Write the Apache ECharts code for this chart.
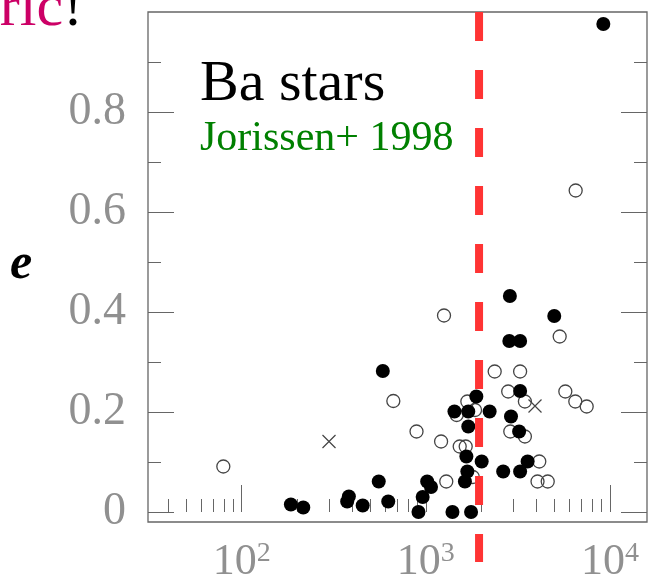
<!DOCTYPE html>
<html>
<head>
<meta charset="utf-8">
<script src="https://cdn.jsdelivr.net/npm/echarts@6/dist/echarts.min.js"></script>
<style>
html,body{margin:0;padding:0;background:#fff;}
#chart{width:655px;height:575px;}
</style>
</head>
<body>
<div id="chart"></div>
<script>
// ---- data (orbital period P in days, eccentricity e) ----
const filledP = [9200, 2860, 4980, 2840, 3250, 584, 3250, 1880, 1430, 1700, 2220, 2900, 1700, 3210, 1660, 2010, 3570, 1680, 1630, 2630, 3250, 1017, 1067, 555, 961, 912, 1395, 1760, 625, 382, 374, 454, 185, 216];
const filledE = [0.976, 0.432, 0.392, 0.342, 0.342, 0.282, 0.242, 0.231, 0.201, 0.201, 0.201, 0.191, 0.171, 0.161, 0.111, 0.101, 0.101, 0.081, 0.061, 0.081, 0.081, 0.061, 0.05, 0.061, 0.03, 0.0, 0.0, 0.0, 0.021, 0.031, 0.021, 0.013, 0.015, 0.009];
const openP = [1255, 6510, 5330, 2365, 3250, 666, 2800, 3450, 5720, 6480, 7470, 1680, 1470, 1850, 890, 1210, 1527, 1646, 2874, 3450, 4130, 4040, 4590, 1291, 79.5, 1800];
const openE = [0.393, 0.643, 0.351, 0.281, 0.281, 0.222, 0.241, 0.221, 0.241, 0.221, 0.211, 0.221, 0.194, 0.204, 0.161, 0.141, 0.131, 0.131, 0.161, 0.151, 0.101, 0.061, 0.061, 0.061, 0.091, 0.07];
const crossP = [3915, 298];
const crossE = [0.212, 0.141];
const redLineP = 1945;

const xMajorTicks = [100, 1000, 10000];
const xMinorTicks = [40, 50, 60, 70, 80, 90, 200, 300, 400, 500, 600, 700, 800, 900, 2000, 3000, 4000, 5000, 6000, 7000, 8000, 9000];
const xLabels = [100, 1000, 10000];
const yMajorTicks = [0, 0.2, 0.4, 0.6, 0.8];
const yMinorTicks = [0.1, 0.3, 0.5, 0.7, 0.9];
const yLabels = [0, 0.2, 0.4, 0.6, 0.8];

const zip = (a, b) => a.map((v, i) => [v, b[i]]);

const chart = echarts.init(document.getElementById('chart'), null, {renderer: 'canvas'});
const tickColor = '#666';
const labelColor = '#909090';
const serif = '"Liberation Serif", "Times New Roman", serif';

function xAx(pos, ticks, len, inside, withLabels) {
  return {
    type: 'log', logBase: 10, min: 31, max: 15880, gridIndex: 0, position: pos,
    axisLine: {show: false},
    splitLine: {show: false},
    minorTick: {show: false},
    axisTick: {show: true, inside: inside, length: len, customValues: ticks, lineStyle: {color: tickColor, width: 1}},
    axisLabel: withLabels ? {
      show: true, customValues: xLabels, margin: 18,
      formatter: v => '{b|10}{s|' + Math.round(Math.log10(v)) + '}',
      rich: {
        b: {fontSize: 44, fontFamily: serif, color: labelColor},
        s: {fontSize: 28, fontFamily: serif, color: labelColor, verticalAlign: 'top'}
      }
    } : {show: false}
  };
}
function yAx(pos, ticks, len, withLabels) {
  return {
    type: 'value', min: -0.02, max: 1.0, gridIndex: 0, position: pos,
    axisLine: {show: false},
    splitLine: {show: false},
    axisTick: {show: true, inside: true, length: len, customValues: ticks, lineStyle: {color: tickColor, width: 1}},
    axisLabel: withLabels ? {
      show: true, customValues: yLabels, margin: 22,
      fontSize: 46, fontFamily: serif, color: labelColor,
      formatter: v => (Math.abs(v) < 1e-9 ? '0' : v.toFixed(1))
    } : {show: false}
  };
}

const option = {
  animation: false,
  backgroundColor: '#fff',
  grid: {left: 148, top: 12, width: 499, height: 510, containLabel: false, outerBoundsMode: 'none',
    show: true, borderColor: '#666', borderWidth: 1.3, backgroundColor: 'transparent'},
  xAxis: [
    xAx('bottom', xMajorTicks, 27, true, true),
    xAx('bottom', xMinorTicks, 13, true, false),
    xAx('top', xMajorTicks.concat(xMinorTicks), 2, false, false)
  ],
  yAxis: [
    yAx('left', yMajorTicks, 26, true),
    yAx('left', yMinorTicks, 13, false),
    yAx('right', yMajorTicks, 26, false),
    yAx('right', yMinorTicks, 13, false)
  ],
  series: [
    {
      name: 'open', type: 'scatter', xAxisIndex: 0, yAxisIndex: 0,
      data: zip(openP, openE), symbol: 'circle', symbolSize: 13,
      itemStyle: {color: 'rgba(0,0,0,0)', borderColor: '#444', borderWidth: 1.3, opacity: 1},
      z: 2
    },
    {
      name: 'cross', type: 'scatter', xAxisIndex: 0, yAxisIndex: 0,
      data: zip(crossP, crossE), symbol: 'path://M0,0L10,10M10,0L0,10', symbolSize: 13,
      itemStyle: {color: 'rgba(0,0,0,0)', borderColor: '#444', borderWidth: 1.2, opacity: 1},
      z: 2
    },
    {
      name: 'filled', type: 'scatter', xAxisIndex: 0, yAxisIndex: 0,
      data: zip(filledP, filledE), symbol: 'circle', symbolSize: 14,
      itemStyle: {color: '#000', opacity: 1},
      z: 3
    }
  ],
  graphic: [
    {type: 'text', id: 'ric', x: 83, y: 9, z: 10,
      style: {text: '{a|ric}{b|!}', align: 'right', verticalAlign: 'middle',
        rich: {a: {fontSize: 60, fontFamily: serif, fill: '#cc0066'}, b: {fontSize: 60, fontFamily: serif, fill: '#000'}}}},
    {type: 'text', id: 'elab', x: 10, y: 265, z: 10,
      style: {text: 'e', font: 'italic bold 50px "Liberation Serif", serif', fill: '#000', verticalAlign: 'middle'}},
    {type: 'text', id: 'ba', x: 200, y: 84.4, z: 10,
      style: {text: 'Ba stars', font: '58px "Liberation Serif", serif', fill: '#000', verticalAlign: 'middle'}},
    {type: 'text', id: 'jor', x: 200, y: 138.8, z: 10,
      style: {text: 'Jorissen+ 1998', font: '42px "Liberation Serif", serif', fill: '#008000', verticalAlign: 'middle'}}
  ]
};
chart.setOption(option);

const px = chart.convertToPixel({xAxisIndex: 0}, redLineP);
chart.setOption({
  graphic: [
    {type: 'line', id: 'redline', z: 20,
      shape: {x1: px, y1: 12, x2: px, y2: 562},
      style: {stroke: '#ff3434', lineWidth: 8, lineDash: [29, 29], lineCap: 'butt'}}
  ]
});
</script>
</body>
</html>
